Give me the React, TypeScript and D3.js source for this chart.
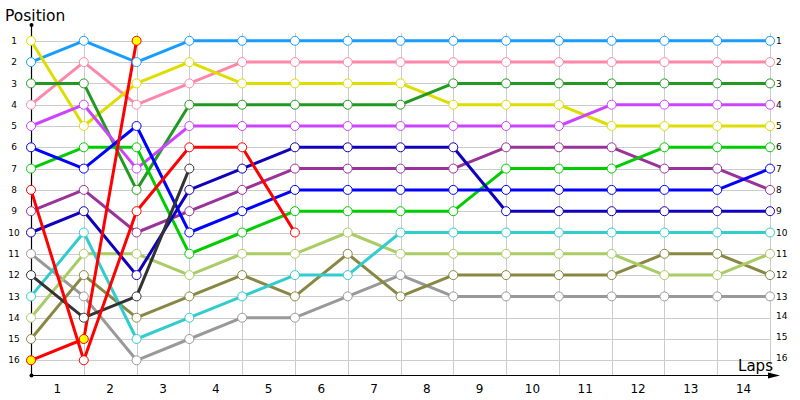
import * as d3 from 'd3';

// positions at each timing point (start + 14 laps), shorter arrays = retired
const lightBlue = [2, 1, 2, 1, 1, 1, 1, 1, 1, 1, 1, 1, 1, 1, 1];
const pink = [4, 2, 4, 3, 2, 2, 2, 2, 2, 2, 2, 2, 2, 2, 2];
const yellow = [1, 5, 3, 2, 3, 3, 3, 3, 4, 4, 4, 5, 5, 5, 5];
const darkGreen = [3, 3, 8, 4, 4, 4, 4, 4, 3, 3, 3, 3, 3, 3, 3];
const violet = [5, 4, 7, 5, 5, 5, 5, 5, 5, 5, 5, 4, 4, 4, 4];
const blue = [6, 7, 5, 10, 9, 8, 8, 8, 8, 8, 8, 8, 8, 8, 7];
const green = [7, 6, 6, 11, 10, 9, 9, 9, 9, 7, 7, 7, 6, 6, 6];
const purple = [9, 8, 10, 9, 8, 7, 7, 7, 7, 6, 6, 6, 7, 7, 8];
const navy = [10, 9, 12, 8, 7, 6, 6, 6, 6, 9, 9, 9, 9, 9, 9];
const gray = [11, 13, 16, 15, 14, 14, 13, 12, 13, 13, 13, 13, 13, 13, 13];
const black = [12, 14, 13, 7];
const cyan = [13, 10, 15, 14, 13, 12, 12, 10, 10, 10, 10, 10, 10, 10, 10];
const lightGreen = [14, 11, 11, 12, 11, 11, 10, 11, 11, 11, 11, 11, 12, 12, 11];
const olive = [15, 12, 14, 13, 12, 13, 11, 13, 12, 12, 12, 12, 11, 11, 12];
const red = [8, 16, 9, 6, 6, 10];
const redLeader = [16, 15, 1];

const laps = d3.range(1, 15);
const positions = d3.range(1, 17);

const series = [
  { values: lightBlue, color: '#1a9cff', fill: '#fff' },
  { values: pink, color: '#ff88aa', fill: '#fff' },
  { values: yellow, color: '#dddd00', fill: '#fff' },
  { values: darkGreen, color: '#229922', fill: '#fff' },
  { values: violet, color: '#cc44ff', fill: '#fff' },
  { values: gray, color: '#999999', fill: '#fff' },
  { values: olive, color: '#888844', fill: '#fff' },
  { values: lightGreen, color: '#aacc66', fill: '#fff' },
  { values: cyan, color: '#33cccc', fill: '#fff' },
  { values: purple, color: '#993399', fill: '#fff' },
  { values: green, color: '#00cc00', fill: '#fff' },
  { values: blue, color: '#0000ff', fill: '#fff' },
  { values: navy, color: '#1100bb', fill: '#fff' },
  { values: black, color: '#333333', fill: '#fff' },
  { values: red, color: '#ff0000', fill: '#fff' },
  { values: redLeader, color: '#ff0000', fill: '#ffff00' },
];

const width = 800;
const height = 400;

export default function App() {
  const x = d3.scaleLinear().domain([0, 14]).range([31, 770]);
  const y = d3.scaleLinear().domain([1, 16]).range([40.8, 360.3]);
  const axisY = 375.5;

  const line = d3
    .line<number>()
    .x((_d, i) => x(i))
    .y((d) => y(d));

  const font = '"DejaVu Sans", Verdana, sans-serif';

  return (
    <svg
      width={width}
      height={height}
      style={{ position: 'absolute', left: 0, top: 0, background: '#fff' }}
      fontFamily={font}
    >
      {/* grid */}
      <g stroke="#cccccc" strokeWidth={1}>
        {d3.range(0, 15).map((i) => (
          <line key={'v' + i} x1={Math.round(x(i)) + 0.5} x2={Math.round(x(i)) + 0.5} y1={33} y2={axisY} />
        ))}
        {positions.map((p) => (
          <line key={'h' + p} x1={31} x2={770} y1={Math.round(y(p)) + 0.5} y2={Math.round(y(p)) + 0.5} />
        ))}
      </g>

      {/* axes */}
      <g stroke="#000" strokeWidth={1.2}>
        <line x1={31.5} x2={31.5} y1={25} y2={axisY} />
        <line x1={31.5} x2={776} y1={axisY} y2={axisY} />
      </g>
      <circle cx={31.5} cy={25} r={2} fill="#000" />
      <circle cx={31.5} cy={axisY} r={2} fill="#000" />
      <path d={`M768,${axisY - 3} L780,${axisY} L768,${axisY + 3} Z`} fill="#000" />

      {/* position labels */}
      <g fontSize={9} fill="#000">
        {positions.map((p) => (
          <text key={'l' + p} x={14} y={y(p)} dy="0.35em" textAnchor="middle">
            {p}
          </text>
        ))}
        {positions.map((p) => (
          <text key={'r' + p} x={776} y={y(p) - (p > 13 ? 2 : 0)} dy="0.35em" textAnchor="start">
            {p}
          </text>
        ))}
      </g>

      {/* lap labels */}
      <g fontSize={12} fill="#000">
        {laps.map((l) => (
          <text key={'lap' + l} x={x(l - 0.5)} y={393} textAnchor="middle">
            {l}
          </text>
        ))}
      </g>

      <text x={5} y={21} fontSize={15.5} fill="#000">
        Position
      </text>
      <text x={738} y={371} fontSize={15} fill="#000" textLength={35} lengthAdjust="spacingAndGlyphs">
        Laps
      </text>

      {/* series */}
      {series.map((s, k) => (
        <g key={'s' + k}>
          <path d={line(s.values) ?? ''} fill="none" stroke={s.color} strokeWidth={3} strokeLinejoin="round" />
        </g>
      ))}
      {series.map((s, k) => (
        <g key={'m' + k}>
          {s.values.map((v, i) => (
            <circle key={i} cx={x(i)} cy={y(v)} r={4.5} fill={s.fill} stroke={s.color} strokeWidth={1} />
          ))}
        </g>
      ))}
    </svg>
  );
}
